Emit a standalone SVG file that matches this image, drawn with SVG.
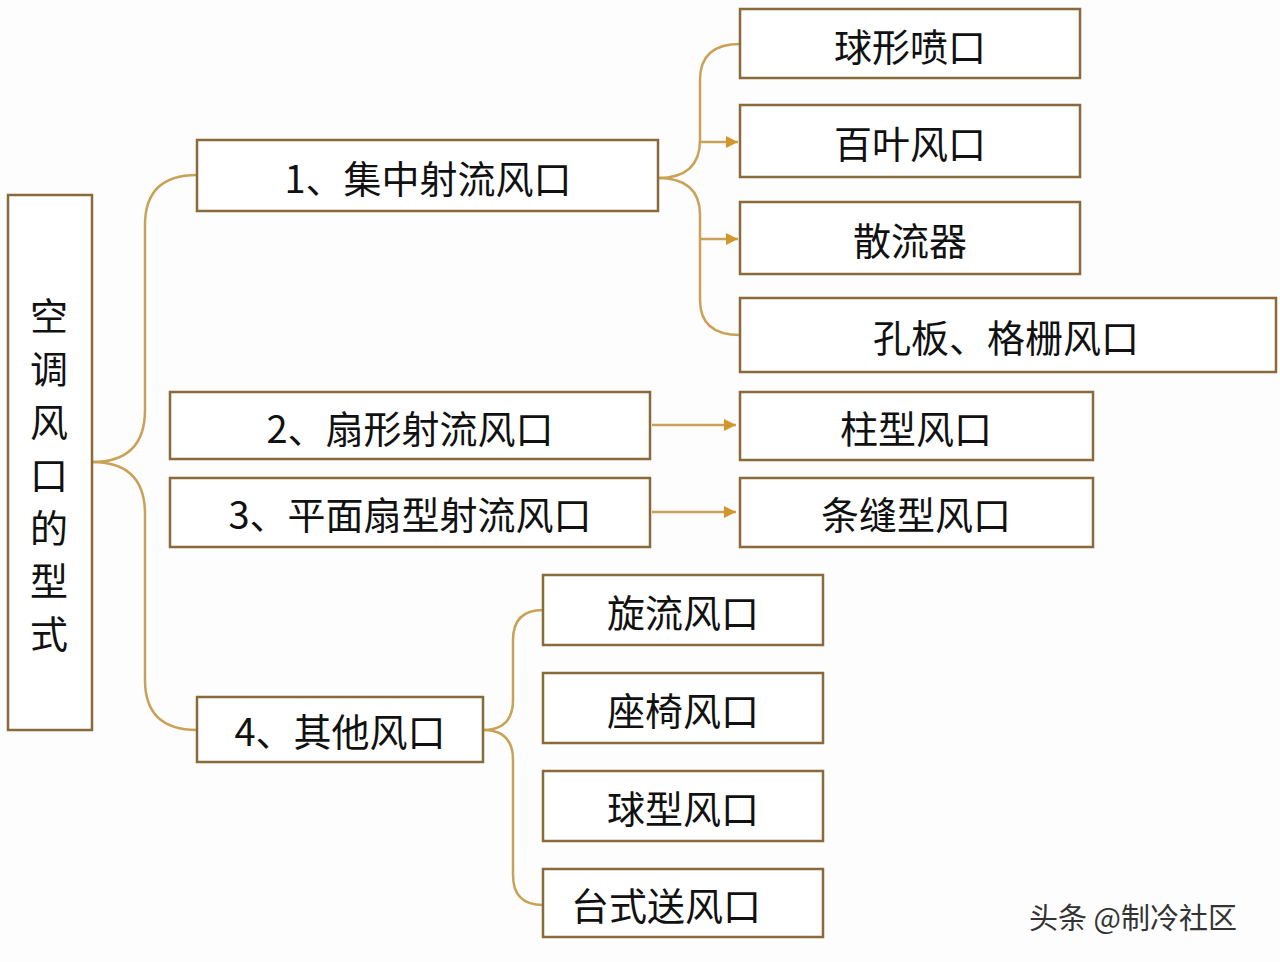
<svg xmlns="http://www.w3.org/2000/svg" width="1280" height="962" viewBox="0 0 1280 962">
<defs>
<style>
.b{fill:#fff;stroke:#8a6a3a;stroke-width:2.5}
.t{font-family:"Noto Sans CJK SC","Noto Sans",sans-serif;font-size:38px;fill:#111;text-anchor:middle;dominant-baseline:central}
.c{fill:none;stroke:#c9a257;stroke-width:2.5}
</style>
<marker id="a" viewBox="0 0 10 10" refX="10" refY="5" markerWidth="5" markerHeight="5" orient="auto"><path d="M0,0L10,5L0,10z" fill="#d4962a"/></marker>
</defs>
<rect width="1280" height="962" fill="#fdfdfd"/>
<g id="connectors">
<path class="c" d="M92,462 Q145,462 145,410 V225 Q145,175 197,175"/>
<path class="c" d="M92,462 Q145,462 145,514 V680 Q145,730 197,730"/>
<path class="c" d="M658,178 Q700,178 700,140 V80 Q700,44 740,44"/>
<path class="c" d="M658,178 Q700,178 700,215 V300 Q700,335 740,335"/>
<path class="c" d="M700,142 H738" marker-end="url(#a)"/>
<path class="c" d="M700,239 H738" marker-end="url(#a)"/>
<path class="c" d="M652,425 H736" marker-end="url(#a)"/>
<path class="c" d="M652,512 H736" marker-end="url(#a)"/>
<path class="c" d="M483,730 Q513,730 513,700 V640 Q513,610 543,610"/>
<path class="c" d="M483,730 Q513,730 513,760 V875 Q513,905 543,905"/>
</g>
<g id="root"><rect class="b" x="8" y="195" width="84" height="535"/>
<text class="t" x="49" font-size="40"><tspan x="49" y="313">空</tspan><tspan x="49" y="366">调</tspan><tspan x="49" y="419">风</tspan><tspan x="49" y="472">口</tspan><tspan x="49" y="525">的</tspan><tspan x="49" y="578">型</tspan><tspan x="49" y="631">式</tspan></text></g>
<g id="n1"><rect class="b" x="197" y="140" width="461" height="71"/><text class="t" x="428" y="176">1、集中射流风口</text></g>
<g id="n2"><rect class="b" x="170" y="392" width="480" height="67"/><text class="t" x="410" y="426">2、扇形射流风口</text></g>
<g id="n3"><rect class="b" x="170" y="478" width="480" height="69"/><text class="t" x="410" y="512">3、平面扇型射流风口</text></g>
<g id="n4"><rect class="b" x="197" y="697" width="286" height="65"/><text class="t" x="340" y="729">4、其他风口</text></g>
<g id="r1"><rect class="b" x="740" y="9" width="340" height="69"/><text class="t" x="910" y="44">球形喷口</text></g>
<g id="r2"><rect class="b" x="740" y="105" width="340" height="72"/><text class="t" x="910" y="141">百叶风口</text></g>
<g id="r3"><rect class="b" x="740" y="202" width="340" height="72"/><text class="t" x="910" y="238">散流器</text></g>
<g id="r4"><rect class="b" x="740" y="298" width="536" height="74"/><text class="t" x="1006" y="335">孔板、格栅风口</text></g>
<g id="r5"><rect class="b" x="740" y="392" width="353" height="68"/><text class="t" x="916" y="426">柱型风口</text></g>
<g id="r6"><rect class="b" x="740" y="478" width="353" height="69"/><text class="t" x="916" y="512">条缝型风口</text></g>
<g id="s1"><rect class="b" x="543" y="575" width="280" height="70"/><text class="t" x="683" y="610">旋流风口</text></g>
<g id="s2"><rect class="b" x="543" y="673" width="280" height="70"/><text class="t" x="683" y="708">座椅风口</text></g>
<g id="s3"><rect class="b" x="543" y="771" width="280" height="70"/><text class="t" x="683" y="806">球型风口</text></g>
<g id="s4"><rect class="b" x="543" y="869" width="280" height="68"/><text class="t" x="666" y="903">台式送风口</text></g>
<text x="1133" y="916" font-family="Noto Sans CJK SC,sans-serif" font-size="29" fill="#333" text-anchor="middle" dominant-baseline="central">头条 @制冷社区</text>
</svg>
